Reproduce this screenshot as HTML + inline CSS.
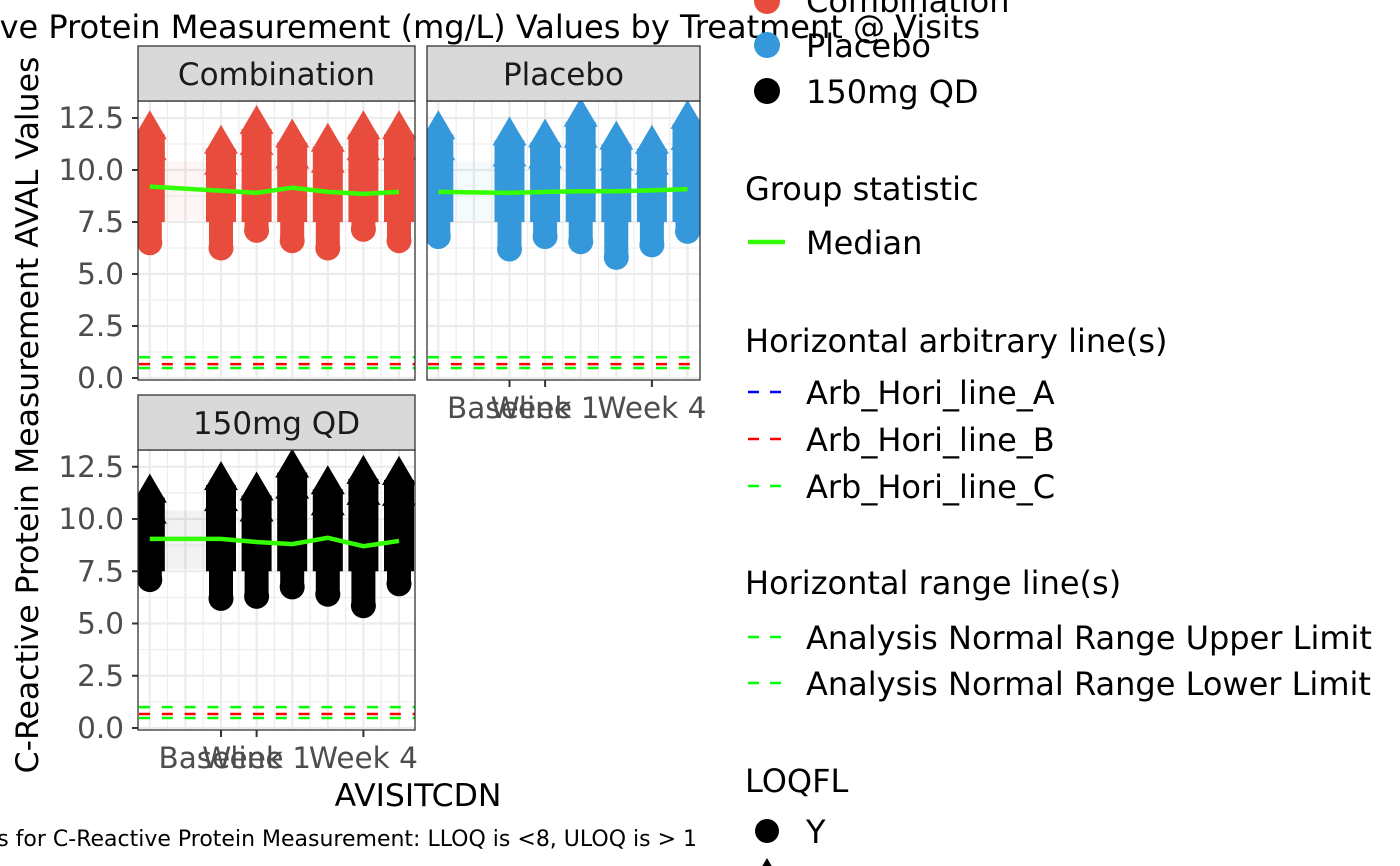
<!DOCTYPE html>
<html><head><meta charset="utf-8"><style>
html,body{margin:0;padding:0;background:#fff;width:1400px;height:866px;overflow:hidden}
svg{display:block;font-family:"DejaVu Sans","Liberation Sans",sans-serif}
</style></head><body>
<svg id="chart" width="1400" height="866" viewBox="0 0 1400 866"></svg>
<script>
// ---- data ----
const panelNames = ["Combination","Placebo","150mg QD"];
const panelColors = ["#E74C3C","#3498DB","#000000"];
const visitX = [-2,0,1,2,3,4,5];
const tickValues = [0,1,4];
const tickLabels = ["Baseline","Week 1","Week 4"];
const yTicks = [0,2.5,5,7.5,10,12.5];
const yTickLabels = ["0.0","2.5","5.0","7.5","10.0","12.5"];
const comboLow = [6.5,6.25,7.1,6.6,6.25,7.15,6.6];
const comboHigh = [12.2,11.5,12.45,11.8,11.6,12.2,12.2];
const comboMedian = [9.2,9.0,8.9,9.15,8.95,8.85,8.95];
const placeboLow = [6.8,6.2,6.8,6.55,5.8,6.4,7.05];
const placeboHigh = [12.2,11.9,11.8,12.8,11.7,11.5,12.7];
const placeboMedian = [8.95,8.9,8.95,8.98,8.98,9.02,9.08];
const qdLow = [7.1,6.2,6.3,6.75,6.4,5.85,6.9];
const qdHigh = [11.5,12.1,11.6,12.7,11.9,12.4,12.35];
const qdMedian = [9.05,9.05,8.9,8.8,9.1,8.7,8.95];
const refValues = [1.0,0.67,0.48];
const refColors = ["#00FF00","#FF0000","#00FF00"];
const bodySplit = 7.5;

const NS="http://www.w3.org/2000/svg";
const svg=document.getElementById('chart');
function mk(tag,attrs,parent){const e=document.createElementNS(NS,tag);for(const k in attrs)e.setAttribute(k,attrs[k]);(parent||svg).appendChild(e);return e;}
function txt(s,attrs,parent){const e=mk('text',attrs,parent);e.textContent=s;return e;}

const panels=[
 {x0:138,x1:415,y0:101,y1:380,sy0:46,base:221,step:35.6,yz:378,yu:20.8,low:comboLow,high:comboHigh,med:comboMedian,xt:false,yt:true},
 {x0:427,x1:700,y0:101,y1:380,sy0:46,base:509.5,step:35.6,yz:378,yu:20.8,low:placeboLow,high:placeboHigh,med:placeboMedian,xt:true,yt:false},
 {x0:138,x1:415,y0:450,y1:730,sy0:395,base:221,step:35.6,yz:728,yu:20.9,low:qdLow,high:qdHigh,med:qdMedian,xt:true,yt:true}
];
const defs=mk('defs',{});
panels.forEach((p,i)=>{
  const X=v=>p.base+v*p.step, Y=v=>p.yz-v*p.yu;
  const cp=mk('clipPath',{id:'clip'+i},defs);
  mk('rect',{x:p.x0,y:p.y0,width:p.x1-p.x0,height:p.y1-p.y0},cp);
  const g=mk('g',{});
  
  
  mk('rect',{x:p.x0,y:p.y0,width:p.x1-p.x0,height:p.y1-p.y0,fill:'#fff'},g);
  const cg=mk('g',{'clip-path':'url(#clip'+i+')'},g);
  for(let v=-2.5;v<=5.5;v+=0.5){mk('line',{x1:X(v),x2:X(v),y1:p.y0,y2:p.y1,stroke:'#EBEBEB','stroke-width':(v%1===0)?2.2:1.1},cg);}
  for(let v=0;v<=13.75;v+=1.25){mk('line',{x1:p.x0,x2:p.x1,y1:Y(v),y2:Y(v),stroke:'#EBEBEB','stroke-width':(v%2.5===0)?2.2:1.1},cg);}
  mk('rect',{x:X(visitX[0]),y:Y(10.4),width:X(visitX[1])-X(visitX[0]),height:Y(7.6)-Y(10.4),fill:panelColors[i],opacity:0.05},cg);
  refValues.forEach((r,k)=>{const l=mk('line',{x1:p.x0,x2:p.x1,y1:Y(r),y2:Y(r),stroke:refColors[k],'stroke-width':2.5,'stroke-dasharray':'11 11.8','stroke-dashoffset':-1},cg);
    });
  visitX.forEach((vx,j)=>{
    const cx=X(vx), lo=Y(p.low[j]), hi=Y(p.high[j]), sp=Y(bodySplit);
    const col=panelColors[i];
    const m=mk('g',{},cg);
    
    mk('rect',{x:cx-12,y:sp-2,width:24,height:lo-sp+2,fill:col},m);
    mk('circle',{cx:cx,cy:lo,r:12.5,fill:col},m);
    mk('rect',{x:cx-15,y:hi+10,width:30,height:sp-hi-10,fill:col},m);
    mk('polygon',{points:`${cx},${hi-14} ${cx-17},${hi+15} ${cx+17},${hi+15}`,fill:col},m);
    mk('polygon',{points:`${cx},${hi+8} ${cx-17},${hi+36} ${cx+17},${hi+36}`,fill:col},m);
  });
  const pts=visitX.map((vx,j)=>X(vx)+','+Y(p.med[j])).join(' ');
  const ml=mk('polyline',{points:pts,fill:'none',stroke:'#33FF00','stroke-width':4.5},cg);
  
  mk('rect',{x:p.x0,y:p.y0,width:p.x1-p.x0,height:p.y1-p.y0,fill:'none',stroke:'#333','stroke-width':1.3},g);
  const st=mk('rect',{x:p.x0,y:p.sy0,width:p.x1-p.x0,height:p.y0-p.sy0,fill:'#D9D9D9',stroke:'#333','stroke-width':1.3},g);
  
  const sl=txt(panelNames[i],{x:(p.x0+p.x1)/2,y:p.sy0+39,'text-anchor':'middle','font-size':31,fill:'#1A1A1A'},g);
  
  if(p.yt){yTicks.forEach((v,k)=>{mk('line',{x1:p.x0-6,x2:p.x0,y1:Y(v),y2:Y(v),stroke:'#333','stroke-width':2},g);
    const t=txt(yTickLabels[k],{x:p.x0-14,y:Y(v)+10,'text-anchor':'end','font-size':29.5,fill:'#4D4D4D'},g);
    });}
  if(p.xt){tickValues.forEach((v,k)=>{mk('line',{x1:X(v),x2:X(v),y1:p.y1,y2:p.y1+7,stroke:'#333','stroke-width':2},g);
    const t=txt(tickLabels[k],{x:X(v),y:p.y1+38,'text-anchor':'middle','font-size':29.5,fill:'#4D4D4D'},g);
    });}
});
</script>
<svg width="1400" height="866" style="position:absolute;left:0;top:0">
<g font-family="DejaVu Sans, Liberation Sans, sans-serif" fill="#000">
<text x="980" y="38" text-anchor="end" font-size="32">C-Reactive Protein Measurement (mg/L)  Values by Treatment @ Visits</text>
<text transform="translate(38,415) rotate(-90)" text-anchor="middle" font-size="31.5">C-Reactive Protein Measurement AVAL Values</text>
<text x="418" y="806" text-anchor="middle" font-size="31.5">AVISITCDN</text>
<text x="697" y="846" text-anchor="end" font-size="22">Limits for C-Reactive Protein Measurement: LLOQ is &lt;8, ULOQ is &gt; 1</text>
<g font-size="32">
<circle cx="767" cy="1" r="13" fill="#E74C3C"/><text x="806" y="12">Combination</text>
<circle cx="767" cy="45" r="13" fill="#3498DB"/><text x="806" y="57">Placebo</text>
<circle cx="767" cy="91" r="13" fill="#000"/><text x="806" y="103">150mg QD</text>
<text x="745" y="200">Group statistic</text>
<line x1="748" x2="785" y1="242" y2="242" stroke="#33FF00" stroke-width="4.5"/><text x="806" y="254">Median</text>
<text x="745" y="352">Horizontal arbitrary line(s)</text>
<line x1="748" x2="785" y1="392" y2="392" stroke="#0000FF" stroke-width="2.5" stroke-dasharray="11 11"/><text x="806" y="404">Arb_Hori_line_A</text>
<line x1="748" x2="785" y1="439" y2="439" stroke="#FF0000" stroke-width="2.5" stroke-dasharray="11 11"/><text x="806" y="451">Arb_Hori_line_B</text>
<line x1="748" x2="785" y1="486" y2="486" stroke="#00FF00" stroke-width="2.5" stroke-dasharray="11 11"/><text x="806" y="498">Arb_Hori_line_C</text>
<text x="745" y="594">Horizontal range line(s)</text>
<line x1="748" x2="785" y1="637" y2="637" stroke="#00FF00" stroke-width="2.5" stroke-dasharray="11 11"/><text x="806" y="649">Analysis Normal Range Upper Limit</text>
<line x1="748" x2="785" y1="683" y2="683" stroke="#00FF00" stroke-width="2.5" stroke-dasharray="11 11"/><text x="806" y="695">Analysis Normal Range Lower Limit</text>
<text x="745" y="792">LOQFL</text>
<circle cx="767" cy="831" r="12" fill="#000"/><text x="806" y="843">Y</text>
<polygon points="767,858 753,882 781,882" fill="#000"/>
</g></g></svg>
</body></html>
